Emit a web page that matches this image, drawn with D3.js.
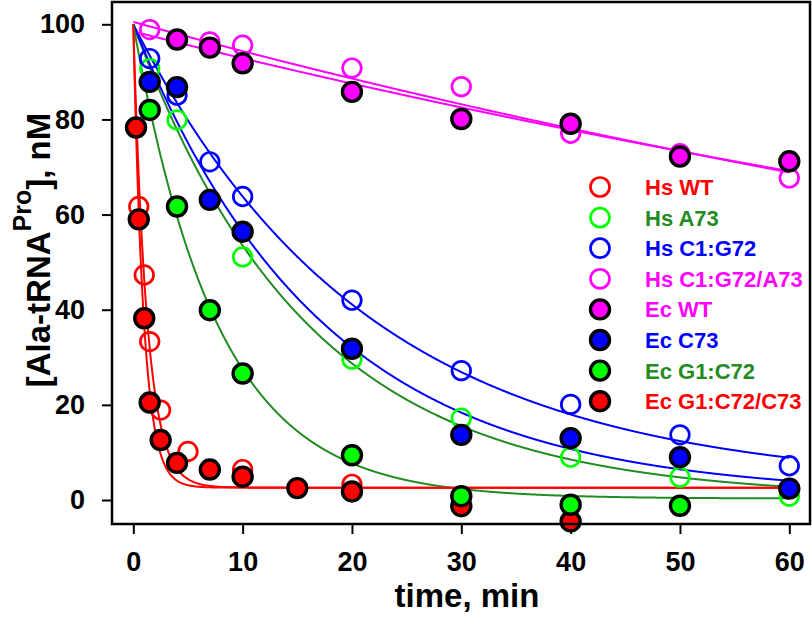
<!DOCTYPE html>
<html><head><meta charset="utf-8">
<script src="https://cdn.jsdelivr.net/npm/d3@7"></script>
<style>body{margin:0;background:#fff}svg{display:block}text{font-family:"Liberation Sans",Arial,sans-serif;font-weight:bold}</style>
</head><body><svg id="c" width="812" height="625"></svg>
<script>
// ---- data ----
const seriesNames = ["Hs WT","Hs A73","Hs C1:G72","Hs C1:G72/A73","Ec WT","Ec C73","Ec G1:C72","Ec G1:C72/C73"];
const markerColors = ["#ff0000","#00ff00","#0000ff","#ff00ff","#ff00ff","#0000ff","#00ff00","#ff0000"];
const lineColors   = ["#ff0000","#228b22","#0000ff","#ff00ff","#ff00ff","#0000ff","#228b22","#ff0000"];
const filledFlags  = [false,false,false,false,true,true,true,true];

const hsWT_t = [0.5,1,1.5,2.5,5,10,20];
const hsWT_v = [61.7,47.3,33.3,18.9,10.2,6.4,3.3];
const hsA73_t = [1.5,4,10,20,30,40,50,60];
const hsA73_v = [90.7,79.9,51.1,29.6,17.2,9.0,4.8,0.8];
const hsC1G72_t = [1.5,4,7,10,20,30,40,50,60];
const hsC1G72_v = [92.8,85.1,71.1,63.8,42.0,27.2,20.1,13.7,7.2];
const hsC1G72A73_t = [1.5,7,10,20,30,40,50,60];
const hsC1G72A73_v = [98.9,96.3,95.6,90.8,86.9,77.1,72.8,67.7];
const ecWT_t = [4,7,10,20,30,40,50,60];
const ecWT_v = [96.8,95.1,91.8,85.8,80.1,79.1,72.2,71.2];
const ecC73_t = [1.5,4,7,10,20,30,40,50,60];
const ecC73_v = [87.9,86.8,63.1,56.4,31.8,13.7,13.0,9.0,2.4];
const ecG1C72_t = [1.5,4,7,10,20,30,40,50];
const ecG1C72_v = [82.0,61.7,39.9,26.6,9.4,0.8,-1.0,-1.2];
const ecG1C72C73_t = [0.25,0.5,1,1.5,2.5,4,7,10,15,20,30,40];
const ecG1C72C73_v = [78.3,59.0,38.2,20.5,12.6,7.8,6.4,4.9,2.5,1.8,-1.3,-4.5];

const seriesTimes  = [hsWT_t,hsA73_t,hsC1G72_t,hsC1G72A73_t,ecWT_t,ecC73_t,ecG1C72_t,ecG1C72C73_t];
const seriesValues = [hsWT_v,hsA73_v,hsC1G72_v,hsC1G72A73_v,ecWT_v,ecC73_v,ecG1C72_v,ecG1C72C73_v];

// single-exponential fit parameters (v = plateau + amplitude*exp(-rate*t))
const fitPlateau  = [2.6,0.5,3.0,0.0,0.0,1.0,0.3,2.6];
const fitAmplitude= [97.4,99.5,97.0,100.5,98.5,99.0,99.7,97.4];
const fitRate     = [0.80,0.063,0.0467,0.0063,0.0059,0.058,0.13,1.05];

const xTicks = [0,10,20,30,40,50,60];
const yTicks = [0,20,40,60,80,100];
const xTitle = "time, min";

// ---- drawing ----
const svg = d3.select("#c");
const frame = {l:112, r:810, t:2, b:524};
const x = d3.scaleLinear().domain([0,60]).range([133.3,789.3]);
const y = d3.scaleLinear().domain([0,100]).range([500,24.3]);

// axes
const xAxis = svg.append("g").attr("transform",`translate(0,${frame.b})`)
  .call(d3.axisBottom(x).tickValues(xTicks).tickSize(10).tickPadding(18).tickFormat(d3.format("d")));
const yAxis = svg.append("g").attr("transform",`translate(${frame.l},0)`)
  .call(d3.axisLeft(y).tickValues(yTicks).tickSize(10).tickPadding(17).tickFormat(d3.format("d")));
[xAxis,yAxis].forEach(a=>{
  a.select(".domain").remove();
  a.selectAll(".tick line").attr("stroke","#000").attr("stroke-width",2);
  a.selectAll(".tick text").attr("fill","#000").style("font-size","27px").style("font-family",'"Liberation Sans",Arial,sans-serif').style("font-weight","bold");
});

// fitted curves
const tGrid = d3.range(0,60.001,0.05);
const line = d3.line().x(d=>x(d[0])).y(d=>y(d[1]));
[0,1,2,3,4,5,6,7].forEach(i=>{
  const pts = tGrid.map(t=>[t, fitPlateau[i]+fitAmplitude[i]*Math.exp(-fitRate[i]*t)]);
  svg.append("path").attr("d",line(pts)).attr("fill","none").attr("stroke",lineColors[i]).attr("stroke-width",2);
});

// points: open series first, then filled
const drawOrder = [1,2,3,0,4,7,6,5];
drawOrder.forEach(i=>{
  const pts = seriesTimes[i].map((t,j)=>[t,seriesValues[i][j]]);
  svg.append("g").selectAll("circle").data(pts).join("circle")
    .attr("cx",d=>x(d[0])).attr("cy",d=>y(d[1])).attr("r",filledFlags[i]?9.5:9.3)
    .attr("fill",filledFlags[i]?markerColors[i]:"none")
    .attr("stroke",filledFlags[i]?"#000":markerColors[i])
    .attr("stroke-width",filledFlags[i]?3.4:2.7);
});

// frame
svg.append("rect").attr("x",frame.l).attr("y",frame.t).attr("width",frame.r-frame.l).attr("height",frame.b-frame.t)
  .attr("fill","none").attr("stroke","#000").attr("stroke-width",2.5);

// legend
const lg = svg.append("g");
seriesNames.forEach((n,i)=>{
  const cy = 187 + i*30.6;
  lg.append("circle").attr("cx",600).attr("cy",cy).attr("r",9.5)
    .attr("fill",filledFlags[i]?markerColors[i]:"none")
    .attr("stroke",filledFlags[i]?"#000":markerColors[i])
    .attr("stroke-width",filledFlags[i]?3.4:2.7);
  lg.append("text").attr("x",645).attr("y",cy+8).attr("fill",lineColors[i])
    .style("font-size","22px").text(n);
});

// axis titles
svg.append("text").attr("x",467).attr("y",607).attr("text-anchor","middle")
  .style("font-size","33px").text(xTitle);
const yt = svg.append("text").attr("transform","translate(50,250) rotate(-90)").attr("text-anchor","middle")
  .style("font-size","33px");
yt.append("tspan").text("[Ala-tRNA");
yt.append("tspan").attr("dy",-19).style("font-size","25px").text("Pro");
yt.append("tspan").attr("dy",19).text("], nM");
</script></body></html>
